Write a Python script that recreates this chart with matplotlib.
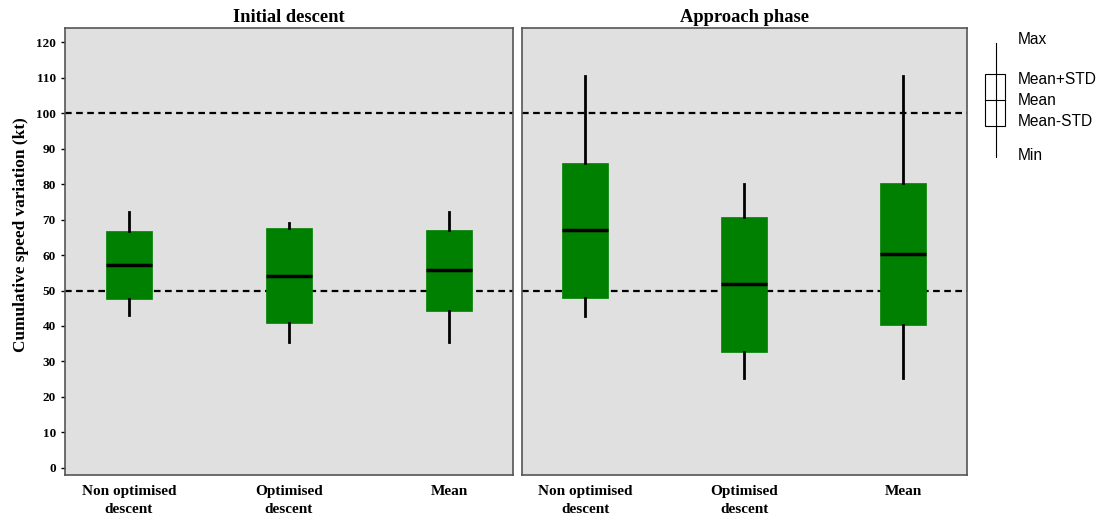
import matplotlib
matplotlib.use("Agg")
import matplotlib.pyplot as plt
from matplotlib.lines import Line2D
from matplotlib.patches import Rectangle

categories = ["Non optimised\ndescent", "Optimised\ndescent", "Mean"]
panels = ["Initial descent", "Approach phase"]

# per panel: [non optimised, optimised, mean]
mins = [[43.0, 35.5, 35.5], [42.7, 25.3, 25.3]]
lower = [[47.6, 40.8, 44.3], [48.0, 32.7, 40.4]]   # mean - std
means = [[57.3, 54.1, 55.8], [67.0, 51.7, 60.4]]
upper = [[66.9, 67.6, 67.0], [85.9, 70.7, 80.2]]   # mean + std
maxs = [[72.0, 69.1, 72.0], [110.5, 80.0, 110.5]]

limits = [50, 100]
yticks = list(range(0, 121, 10))

serif = ["Liberation Serif", "DejaVu Serif"]
sans = ["Liberation Sans", "DejaVu Sans"]

fig = plt.figure(figsize=(11.01, 5.18), dpi=100)
ax_left = fig.add_axes([0.059, 0.083, 0.407, 0.863])
ax_right = fig.add_axes([0.474, 0.083, 0.404, 0.863])

for p, ax in enumerate([ax_left, ax_right]):
    stats = []
    for i in range(len(categories)):
        stats.append(dict(
            med=means[p][i], q1=lower[p][i], q3=upper[p][i],
            whislo=mins[p][i], whishi=maxs[p][i], fliers=[],
        ))
    ax.set_facecolor("#e0e0e0")
    for y in limits:
        ax.axhline(y, color="black", ls=(0, (3, 2)), lw=1.6, zorder=1)
    ax.bxp(
        stats, positions=range(len(categories)), widths=0.29,
        patch_artist=True, showcaps=False, showfliers=False,
        boxprops=dict(facecolor="#008000", edgecolor="#008000", lw=0.5),
        whiskerprops=dict(color="black", lw=2),
        medianprops=dict(color="black", lw=2.5),
        zorder=2,
    )
    ax.set_xlim(-0.4, 2.4)
    ax.set_ylim(-2, 124)
    ax.set_xticks(range(len(categories)))
    ax.set_xticklabels(categories, family=serif, fontweight="bold", fontsize=11,
                       linespacing=1.5)
    ax.tick_params(axis="x", length=0, pad=7)
    ax.set_title(panels[p], family=serif, fontweight="bold", fontsize=13.3, pad=4)
    for side in ["top", "bottom", "left", "right"]:
        ax.spines[side].set_color("#555555")
        ax.spines[side].set_linewidth(1.2)

ax_left.set_yticks(yticks)
ax_left.set_yticklabels([str(t) for t in yticks], family=serif, fontweight="bold", fontsize=9.5)
ax_left.tick_params(axis="y", length=3, width=1, direction="out")
ax_left.set_ylabel("Cumulative speed variation (kt)", family=serif, fontweight="bold",
                   fontsize=12.4)
ax_left.yaxis.set_label_coords(-0.08, 0.537)
ax_right.set_yticks([])

# key at the right
fig.add_artist(Line2D([0.905, 0.905], [1 - 43 / 518, 1 - 157 / 518], color="black", lw=0.8))
fig.add_artist(Rectangle((0.895, 1 - 126 / 518), 0.018, 52 / 518,
                         facecolor="white", edgecolor="black", lw=0.8))
fig.add_artist(Line2D([0.895, 0.913], [1 - 100 / 518, 1 - 100 / 518], color="black", lw=0.8))
key_labels = [("Max", 40), ("Mean+STD", 79), ("Mean", 100), ("Mean-STD", 121), ("Min", 155)]
for text, ypix in key_labels:
    fig.text(0.924, 1 - ypix / 518, text, family=sans, fontsize=11.2, va="center", ha="left")

fig.savefig("out.png", dpi=100)
